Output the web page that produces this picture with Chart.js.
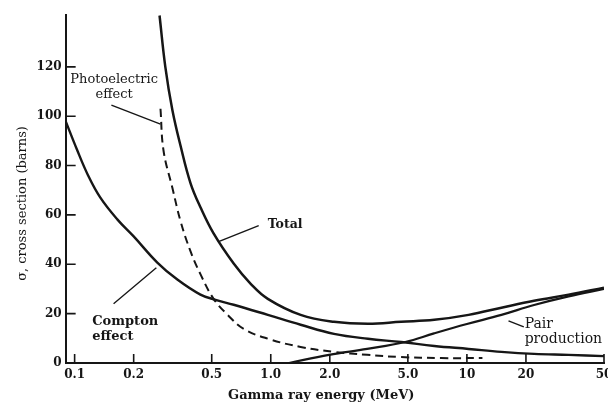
<!DOCTYPE html>
<html>
<head>
<meta charset="utf-8">
<script src="https://cdn.jsdelivr.net/npm/chart.js@4"></script>
<style>
  html, body { margin: 0; padding: 0; background: #fff; overflow: hidden; }
  #chart-gamma { display: block; }
</style>
</head>
<body>
<canvas id="chart-gamma" width="620" height="403"></canvas>
<script>
// gamma ray cross sections vs energy
const xTickValues = [0.1, 0.2, 0.5, 1, 2, 5, 10, 20, 50];
const xTickLabels = ["0.1", "0.2", "0.5", "1.0", "2.0", "5.0", "10", "20", "50"];
const yTickValues = [0, 20, 40, 60, 80, 100, 120];

// Total
const totalEnergy = [0.271, 0.29, 0.315, 0.347, 0.39, 0.438, 0.511, 0.647, 0.79, 0.966, 1.42, 2.1, 3.13, 4.62, 6.82, 10.2, 15, 22, 33, 50];
const totalSigma  = [140.8, 120, 102.5, 87.9, 72.8, 63.1, 52.5, 40.3, 32.1, 26, 19.5, 16.7, 15.9, 16.7, 17.5, 19.5, 22.4, 25.2, 27.7, 30.5];

// Compton effect
const comptonEnergy = [0.09, 0.1025, 0.117, 0.135, 0.165, 0.2, 0.264, 0.334, 0.438, 0.523, 0.647, 0.966, 1.42, 2.1, 3.13, 4.62, 6.82, 10.2, 15, 22, 33, 50];
const comptonSigma  = [98, 86.7, 76.1, 67.1, 58.2, 51.3, 40.7, 33.8, 27.7, 25.6, 23.6, 19.5, 15.5, 11.8, 9.8, 8.5, 6.9, 5.7, 4.5, 3.7, 3.3, 2.8];

// Photoelectric effect (dashed)
const photoEnergy = [0.274, 0.284, 0.315, 0.347, 0.39, 0.438, 0.511, 0.603, 0.728, 0.97, 1.42, 2.1, 3.1, 4.6, 7.4, 12];
const photoSigma  = [103, 86, 71, 57.4, 45.2, 36, 26, 19.5, 13.8, 9.8, 6.5, 4.5, 3.3, 2.4, 2.0, 2.0];

// Pair production
const pairEnergy = [1.24, 1.98, 3.1, 4.85, 6.8, 10, 15, 22, 33, 50];
const pairSigma  = [0, 3.3, 5.7, 8.5, 12, 15.8, 19.5, 23.5, 27, 30];

// callout texts and leader lines, in data units (MeV, barns)
const callouts = [
  { lines: ["Photoelectric", "effect"], at: [0.159, 114.7], step: 6.1, align: "center", font: "13px 'DejaVu Serif'",
    leader: [[0.154, 104.5], [0.274, 96.8]] },
  { lines: ["Compton", "effect"], at: [0.123, 16.7], step: 6.1, align: "left", font: "bold 13px 'DejaVu Serif'",
    leader: [[0.158, 24], [0.261, 38.6]] },
  { lines: ["Total"], at: [0.965, 56.1], step: 0, align: "left", font: "bold 12.5px 'DejaVu Serif'",
    leader: [[0.542, 49.2], [0.868, 55.7]] },
  { lines: ["Pair", "production"], at: [19.7, 15.5], step: 6.1, align: "left", font: "14px 'DejaVu Serif'",
    leader: [[16.3, 17.1], [19.5, 14.6]] }
];

const ink = "#161616";

function toPoints(xs, ys) {
  return xs.map((x, i) => ({ x, y: ys[i] }));
}

function curve(label, xs, ys, width, dash) {
  return {
    label,
    data: toPoints(xs, ys),
    borderColor: ink,
    borderWidth: width,
    borderDash: dash || [],
    pointRadius: 0,
    fill: false,
    tension: 0.4
  };
}

// ticks point inward, plus the callouts
const figureExtras = {
  id: "figureExtras",
  afterDatasetsDraw(chart) {
    const { ctx, scales: { x, y } } = chart;
    ctx.save();
    ctx.strokeStyle = ink;
    ctx.lineWidth = 1.6;
    ctx.beginPath();
    y.ticks.forEach(t => {
      const py = y.getPixelForValue(t.value);
      ctx.moveTo(x.left, py);
      ctx.lineTo(x.left + 10, py);
    });
    x.ticks.forEach(t => {
      const px = x.getPixelForValue(t.value);
      ctx.moveTo(px, y.bottom);
      ctx.lineTo(px, y.bottom - 9);
    });
    ctx.stroke();

    ctx.fillStyle = ink;
    ctx.textBaseline = "middle";
    callouts.forEach(c => {
      ctx.font = c.font;
      ctx.textAlign = c.align;
      const px = x.getPixelForValue(c.at[0]);
      c.lines.forEach((line, i) => {
        ctx.fillText(line, px, y.getPixelForValue(c.at[1] - i * c.step));
      });
      ctx.lineWidth = 1.4;
      ctx.beginPath();
      ctx.moveTo(x.getPixelForValue(c.leader[0][0]), y.getPixelForValue(c.leader[0][1]));
      ctx.lineTo(x.getPixelForValue(c.leader[1][0]), y.getPixelForValue(c.leader[1][1]));
      ctx.stroke();
    });
    ctx.restore();
  }
};

const canvas = document.getElementById("chart-gamma");
new Chart(canvas.getContext("2d"), {
  type: "line",
  data: {
    datasets: [
      curve("Total", totalEnergy, totalSigma, 2.5),
      curve("Compton effect", comptonEnergy, comptonSigma, 2.4),
      curve("Photoelectric effect", photoEnergy, photoSigma, 2, [8, 5]),
      curve("Pair production", pairEnergy, pairSigma, 2.2)
    ]
  },
  options: {
    responsive: false,
    animation: false,
    devicePixelRatio: 1,
    layout: { padding: { top: 15, left: 8, right: 16, bottom: 0 } },
    plugins: {
      legend: { display: false },
      tooltip: { enabled: false }
    },
    scales: {
      x: {
        type: "logarithmic",
        min: 0.09,
        max: 50,
        afterBuildTicks: s => { s.ticks = xTickValues.map(v => ({ value: v })); },
        ticks: {
          autoSkip: false,
          maxRotation: 0,
          padding: 5,
          color: ink,
          font: { family: "'DejaVu Serif'", size: 12, weight: "bold" },
          callback: v => xTickLabels[xTickValues.indexOf(v)]
        },
        grid: { display: false, drawTicks: false },
        border: { display: true, color: ink, width: 2 },
        title: {
          display: true,
          text: "Gamma ray energy (MeV)      ",
          color: ink,
          font: { family: "'DejaVu Serif'", size: 13, weight: "bold" },
          padding: { top: 0, bottom: 0 }
        }
      },
      y: {
        min: 0,
        max: 141,
        afterBuildTicks: s => { s.ticks = yTickValues.map(v => ({ value: v })); },
        ticks: {
          padding: 4,
          color: ink,
          font: { family: "'DejaVu Serif'", size: 12, weight: "bold" }
        },
        grid: { display: false, drawTicks: false },
        border: { display: true, color: ink, width: 2 },
        title: {
          display: true,
          text: "σ, cross section (barns)       ",
          color: ink,
          font: { family: "'DejaVu Serif'", size: 13 },
          padding: { top: 7, bottom: 2 }
        }
      }
    }
  },
  plugins: [figureExtras]
});
</script>
</body>
</html>
